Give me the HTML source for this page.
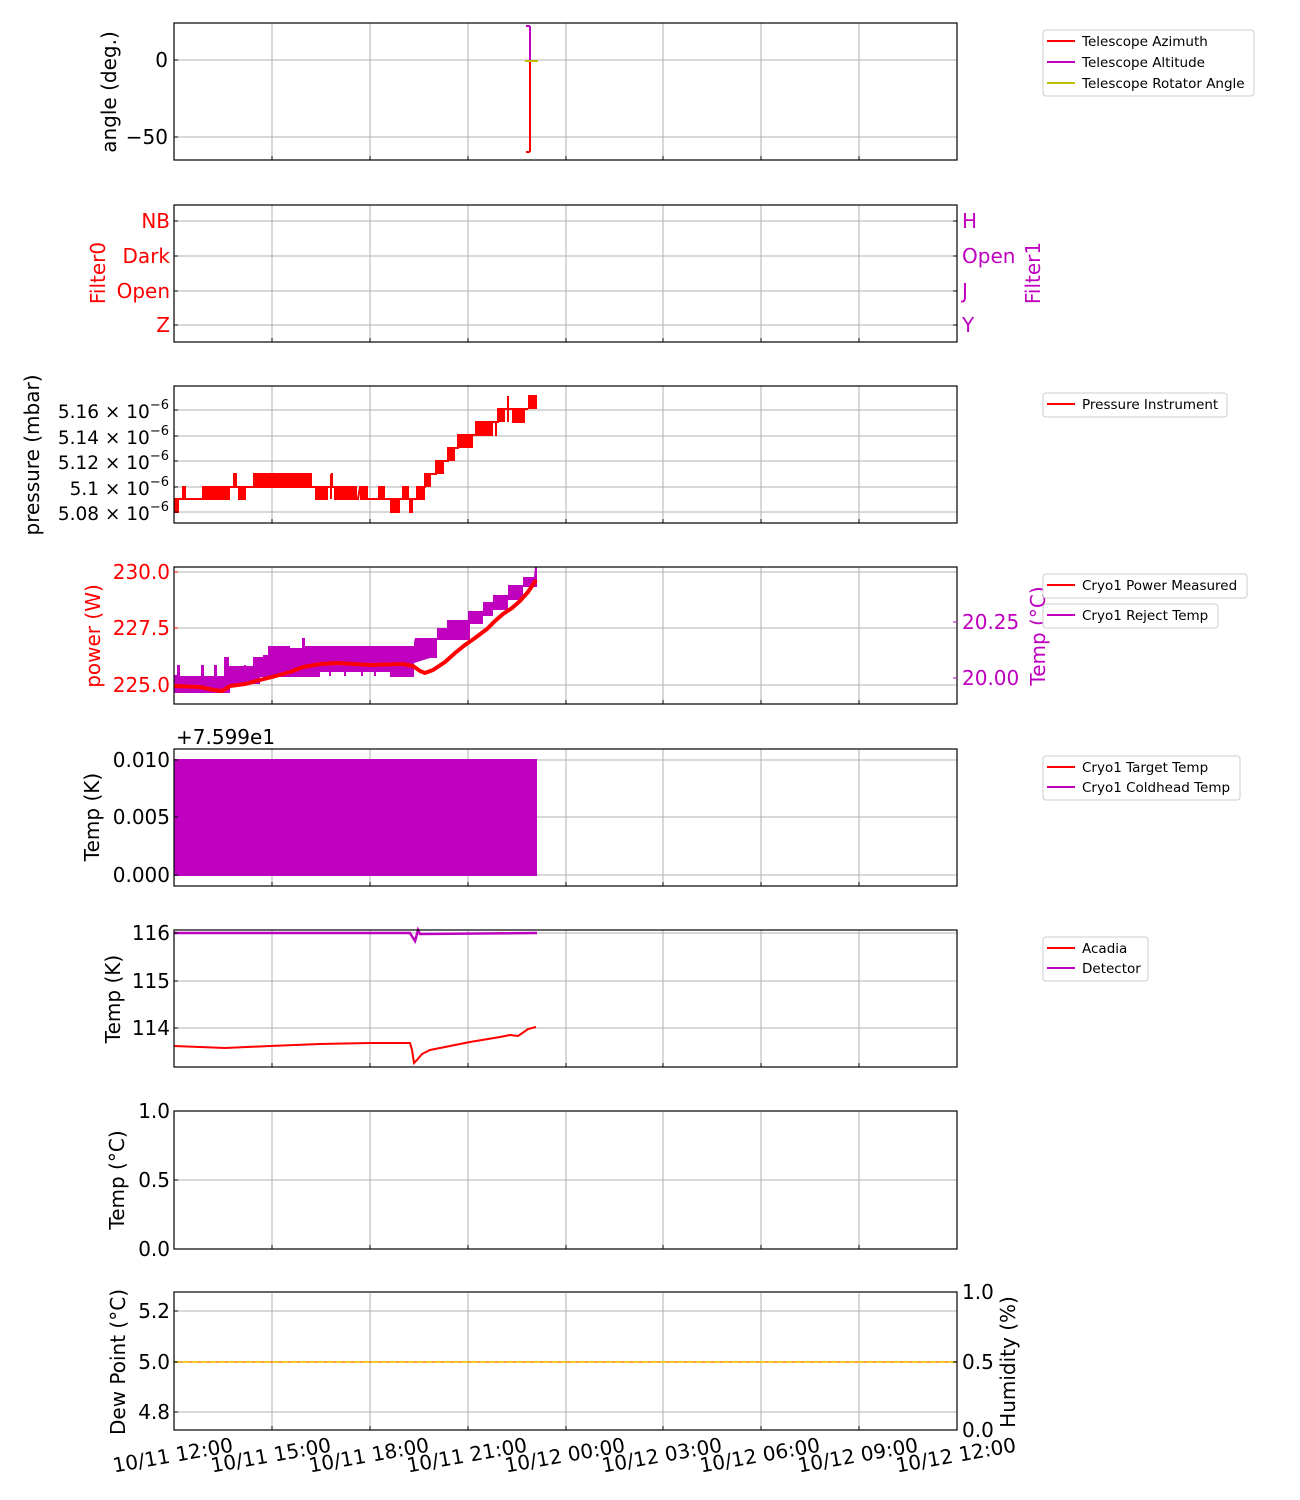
<!DOCTYPE html>
<html><head><meta charset="utf-8"><style>
html,body{margin:0;padding:0;background:#fff;}
svg{display:block;font-family:"DejaVu Sans","Liberation Sans",sans-serif;}
.g{stroke:#b0b0b0;stroke-width:1;}
.ax{fill:none;stroke:#000;stroke-width:1.2;}
.t{font-size:20px;}
.l{font-size:13.5px;}
.lb{fill:#fff;stroke:#ccc;stroke-width:1;}
</style></head><body>
<svg width="1300" height="1500" viewBox="0 0 1300 1500" xmlns="http://www.w3.org/2000/svg">
<defs>
<g id="vg">
<line class="g" x1="272" x2="272" y1="0" y2="137"/><line class="g" x1="370" x2="370" y1="0" y2="137"/>
<line class="g" x1="468" x2="468" y1="0" y2="137"/><line class="g" x1="566" x2="566" y1="0" y2="137"/>
<line class="g" x1="663" x2="663" y1="0" y2="137"/><line class="g" x1="761" x2="761" y1="0" y2="137"/>
<line class="g" x1="859" x2="859" y1="0" y2="137"/>
<g stroke="#000" stroke-width="1">
<line x1="272" x2="272" y1="137" y2="133"/><line x1="370" x2="370" y1="137" y2="133"/>
<line x1="468" x2="468" y1="137" y2="133"/><line x1="566" x2="566" y1="137" y2="133"/>
<line x1="663" x2="663" y1="137" y2="133"/><line x1="761" x2="761" y1="137" y2="133"/>
<line x1="859" x2="859" y1="137" y2="133"/>
</g>
</g>
</defs>

<!-- Panel 1 -->
<g transform="translate(0,23)"><use href="#vg"/></g>
<line class="g" x1="174" x2="957" y1="60" y2="60"/><line class="g" x1="174" x2="957" y1="137" y2="137"/>
<line x1="530" x2="530" y1="26" y2="60" stroke="#bf00bf" stroke-width="2"/>
<line x1="526" x2="530" y1="26" y2="26" stroke="#bf00bf" stroke-width="2"/>
<line x1="530" x2="530" y1="60" y2="152" stroke="#f00" stroke-width="2"/>
<line x1="526" x2="530" y1="152" y2="152" stroke="#f00" stroke-width="2"/>
<line x1="525" x2="538" y1="61" y2="61" stroke="#bfbf00" stroke-width="2"/>
<rect class="ax" x="174" y="23" width="783" height="137"/>
<g stroke="#000"><line x1="174" x2="178" y1="60" y2="60"/><line x1="174" x2="178" y1="137" y2="137"/></g>
<text class="t" x="168" y="67" text-anchor="end">0</text>
<text class="t" x="168" y="144" text-anchor="end">−50</text>
<text class="t" transform="translate(116,92) rotate(-90)" text-anchor="middle">angle (deg.)</text>
<rect class="lb" x="1043" y="30" width="211" height="66" rx="3"/>
<line x1="1047" x2="1075" y1="41" y2="41" stroke="#f00" stroke-width="2"/><text class="l" x="1082" y="46">Telescope Azimuth</text>
<line x1="1047" x2="1075" y1="62" y2="62" stroke="#bf00bf" stroke-width="2"/><text class="l" x="1082" y="67">Telescope Altitude</text>
<line x1="1047" x2="1075" y1="83" y2="83" stroke="#bfbf00" stroke-width="2"/><text class="l" x="1082" y="88">Telescope Rotator Angle</text>

<!-- Panel 2 -->
<g transform="translate(0,205)"><use href="#vg"/></g>
<g class="g"><line x1="174" x2="957" y1="221" y2="221"/><line x1="174" x2="957" y1="256" y2="256"/><line x1="174" x2="957" y1="291" y2="291"/><line x1="174" x2="957" y1="325" y2="325"/></g>
<rect class="ax" x="174" y="205" width="783" height="137"/>
<g stroke="#000"><line x1="174" x2="178" y1="221" y2="221"/><line x1="174" x2="178" y1="256" y2="256"/><line x1="174" x2="178" y1="291" y2="291"/><line x1="174" x2="178" y1="325" y2="325"/>
<line x1="953" x2="957" y1="221" y2="221"/><line x1="953" x2="957" y1="256" y2="256"/><line x1="953" x2="957" y1="291" y2="291"/><line x1="953" x2="957" y1="325" y2="325"/></g>
<g fill="#f00" class="t" text-anchor="end"><text x="170" y="228">NB</text><text x="170" y="263">Dark</text><text x="170" y="298">Open</text><text x="170" y="332">Z</text></g>
<text class="t" fill="#f00" transform="translate(105,273) rotate(-90)" text-anchor="middle">Filter0</text>
<g fill="#bf00bf" class="t"><text x="962" y="228">H</text><text x="962" y="263">Open</text><text x="962" y="298">J</text><text x="962" y="332">Y</text></g>
<text class="t" fill="#bf00bf" transform="translate(1040,273) rotate(-90)" text-anchor="middle">Filter1</text>

<!-- Panel 3 pressure -->
<g transform="translate(0,386)"><use href="#vg"/></g>
<g class="g"><line x1="174" x2="957" y1="410" y2="410"/><line x1="174" x2="957" y1="436" y2="436"/><line x1="174" x2="957" y1="461" y2="461"/><line x1="174" x2="957" y1="487" y2="487"/><line x1="174" x2="957" y1="512" y2="512"/></g>
<g fill="#f00" stroke="none">
<rect x="174" y="498" width="5" height="15"/>
<rect x="182" y="486" width="4" height="14"/>
<rect x="203" y="486" width="27" height="14"/>
<rect x="233" y="473" width="4" height="14"/>
<rect x="238" y="486" width="8" height="14"/>
<rect x="253" y="473" width="59" height="14"/>
<rect x="316" y="486" width="11" height="14"/>
<rect x="331" y="473" width="2" height="14"/>
<rect x="335" y="486" width="22" height="14"/>
<rect x="360" y="486" width="7" height="14"/>
<rect x="378" y="486" width="7" height="14"/>
<rect x="390" y="498" width="10" height="15"/>
<rect x="403" y="486" width="5" height="14"/>
<rect x="409" y="498" width="4" height="15"/>
<rect x="417" y="486" width="8" height="14"/>
<rect x="425" y="473" width="6" height="14"/>
<rect x="436" y="460" width="8" height="14"/>
<rect x="448" y="447" width="7" height="14"/>
<rect x="458" y="435" width="15" height="13"/>
<rect x="476" y="422" width="17" height="14"/>
<rect x="495" y="422" width="2" height="14"/>
<rect x="498" y="408" width="7" height="14"/>
<rect x="512" y="408" width="13" height="15"/>
<rect x="528" y="395" width="9" height="14"/>
</g>
<polyline fill="none" stroke="#f00" stroke-width="2" points="179,499 203,499 203,487 253,487 312,487 316,487 316,499 327,499 327,487 335,487 335,499 358,499 360,487 367,487 367,499 390,499 400,499 403,499 403,487 408,487 408,499 413,499 417,499 417,487 425,487 425,474 431,474 436,474 436,461 444,461 448,461 448,448 455,448 458,448 458,435 473,435 476,435 476,422 498,422 498,409 505,409 512,409 525,409 528,409"/>
<line x1="331" x2="331" y1="474" y2="499" stroke="#f00" stroke-width="2"/>
<line x1="508" x2="508" y1="396" y2="422" stroke="#f00" stroke-width="2"/>
<rect class="ax" x="174" y="386" width="783" height="137"/>
<g stroke="#000"><line x1="174" x2="178" y1="410" y2="410"/><line x1="174" x2="178" y1="436" y2="436"/><line x1="174" x2="178" y1="461" y2="461"/><line x1="174" x2="178" y1="487" y2="487"/><line x1="174" x2="178" y1="512" y2="512"/></g>
<g text-anchor="end" font-size="18.5">
<text x="169" y="418">5.16 × 10<tspan font-size="13" dy="-9">−6</tspan></text>
<text x="169" y="444">5.14 × 10<tspan font-size="13" dy="-9">−6</tspan></text>
<text x="169" y="469">5.12 × 10<tspan font-size="13" dy="-9">−6</tspan></text>
<text x="169" y="495">5.1 × 10<tspan font-size="13" dy="-9">−6</tspan></text>
<text x="169" y="520">5.08 × 10<tspan font-size="13" dy="-9">−6</tspan></text>
</g>
<text class="t" transform="translate(39,455) rotate(-90)" text-anchor="middle">pressure (mbar)</text>
<rect class="lb" x="1043" y="393" width="184" height="24" rx="3"/>
<line x1="1047" x2="1075" y1="404" y2="404" stroke="#f00" stroke-width="2"/><text class="l" x="1082" y="409">Pressure Instrument</text>

<!-- Panel 4 cryo -->
<g transform="translate(0,567)"><use href="#vg"/></g>
<g class="g"><line x1="174" x2="957" y1="572" y2="572"/><line x1="174" x2="957" y1="628" y2="628"/><line x1="174" x2="957" y1="685" y2="685"/></g>
<polygon fill="#bf00bf" points="174,675 177,675 177,665 180,665 180,676 201,676 201,665 204,665 204,676 214,676 214,665 217,665 217,676 224,676 224,657 229,657 229,666 253,666 253,657 263,657 263,655 268,655 268,646 290,646 290,648 302,648 302,638 305,638 305,646 410,646 414,646 414,642 415,638 437,638 437,628 447,628 447,620 468,620 468,611 483,611 483,602 493,602 493,595 508,595 508,585 523,585 523,577 534,577 535,567 537,567 537,587 523,587 523,600 508,600 508,610 493,610 493,616 483,616 483,624 470,624 470,640 437,640 437,658 430,658 414,663 414,677 390,677 390,672 320,672 320,677 260,677 260,684 230,684 230,693 174,693"/>
<g stroke="#bf00bf" stroke-width="2">
<line x1="245" y1="665" x2="245" y2="684"/><line x1="285" y1="660" x2="285" y2="677"/><line x1="330" y1="660" x2="330" y2="676"/><line x1="345" y1="660" x2="345" y2="676"/><line x1="362" y1="660" x2="362" y2="676"/><line x1="375" y1="660" x2="375" y2="676"/>
</g>
<polyline fill="none" stroke="#f00" stroke-width="4" points="174,686 200,687 214,690 222,691 230,686 245,684 260,680 272,677 290,672 303,667 320,664 337,663 370,665 403,664 413,666 420,671 425,673 433,670 445,662 455,653 465,645 475,638 487,629 495,621 503,614 512,608 520,601 528,592 536,580"/>
<rect class="ax" x="174" y="567" width="783" height="137"/>
<g stroke="#f00"><line x1="174" x2="178" y1="572" y2="572"/><line x1="174" x2="178" y1="628" y2="628"/><line x1="174" x2="178" y1="685" y2="685"/></g>
<g stroke="#bf00bf"><line x1="953" x2="957" y1="622" y2="622"/><line x1="953" x2="957" y1="678" y2="678"/></g>
<g class="t" fill="#f00" text-anchor="end"><text x="170" y="579">230.0</text><text x="170" y="635">227.5</text><text x="170" y="692">225.0</text></g>
<g class="t" fill="#bf00bf"><text x="962" y="629">20.25</text><text x="962" y="685">20.00</text></g>
<text class="t" fill="#f00" transform="translate(100,636) rotate(-90)" text-anchor="middle">power (W)</text>
<text class="t" fill="#bf00bf" transform="translate(1045,636) rotate(-90)" text-anchor="middle">Temp (°C)</text>
<rect class="lb" x="1043" y="574" width="204" height="24" rx="3"/>
<line x1="1047" x2="1075" y1="585" y2="585" stroke="#f00" stroke-width="2"/><text class="l" x="1082" y="590">Cryo1 Power Measured</text>
<rect class="lb" x="1043" y="604" width="175" height="24" rx="3"/>
<line x1="1047" x2="1075" y1="615" y2="615" stroke="#bf00bf" stroke-width="2"/><text class="l" x="1082" y="620">Cryo1 Reject Temp</text>

<!-- Panel 5 -->
<g transform="translate(0,749)"><use href="#vg"/></g>
<g class="g"><line x1="174" x2="957" y1="760" y2="760"/><line x1="174" x2="957" y1="817" y2="817"/><line x1="174" x2="957" y1="875" y2="875"/></g>
<rect x="174" y="759" width="363" height="117" fill="#bf00bf"/>
<rect class="ax" x="174" y="749" width="783" height="137"/>
<g stroke="#000"><line x1="174" x2="178" y1="760" y2="760"/><line x1="174" x2="178" y1="817" y2="817"/><line x1="174" x2="178" y1="875" y2="875"/></g>
<g class="t" text-anchor="end"><text x="170" y="767">0.010</text><text x="170" y="824">0.005</text><text x="170" y="882">0.000</text></g>
<text class="t" x="176" y="744">+7.599e1</text>
<text class="t" transform="translate(99,817) rotate(-90)" text-anchor="middle">Temp (K)</text>
<rect class="lb" x="1043" y="756" width="197" height="44" rx="3"/>
<line x1="1047" x2="1075" y1="767" y2="767" stroke="#f00" stroke-width="2"/><text class="l" x="1082" y="772">Cryo1 Target Temp</text>
<line x1="1047" x2="1075" y1="787" y2="787" stroke="#bf00bf" stroke-width="2"/><text class="l" x="1082" y="792">Cryo1 Coldhead Temp</text>

<!-- Panel 6 -->
<g transform="translate(0,930)"><use href="#vg"/></g>
<g class="g"><line x1="174" x2="957" y1="933" y2="933"/><line x1="174" x2="957" y1="981" y2="981"/><line x1="174" x2="957" y1="1028" y2="1028"/></g>
<polyline fill="none" stroke="#bf00bf" stroke-width="2.5" points="174,933 410,933 413,938 415,941 417,934 418,930 420,934 537,933"/>
<polyline fill="none" stroke="#f00" stroke-width="2" points="174,1046 200,1047 225,1048 270,1046 320,1044 370,1043 410,1043 412,1050 414,1063 417,1060 422,1054 430,1050 445,1047 470,1042 500,1037 510,1035 518,1036 521,1034 528,1029 536,1027"/>
<rect class="ax" x="174" y="930" width="783" height="137"/>
<g stroke="#000"><line x1="174" x2="178" y1="933" y2="933"/><line x1="174" x2="178" y1="981" y2="981"/><line x1="174" x2="178" y1="1028" y2="1028"/></g>
<g class="t" text-anchor="end"><text x="170" y="940">116</text><text x="170" y="988">115</text><text x="170" y="1035">114</text></g>
<text class="t" transform="translate(120,999) rotate(-90)" text-anchor="middle">Temp (K)</text>
<rect class="lb" x="1043" y="937" width="105" height="44" rx="3"/>
<line x1="1047" x2="1075" y1="948" y2="948" stroke="#f00" stroke-width="2"/><text class="l" x="1082" y="953">Acadia</text>
<line x1="1047" x2="1075" y1="968" y2="968" stroke="#bf00bf" stroke-width="2"/><text class="l" x="1082" y="973">Detector</text>

<!-- Panel 7 -->
<g transform="translate(0,1112)"><use href="#vg"/></g>
<g class="g"><line x1="174" x2="957" y1="1180" y2="1180"/></g>
<rect class="ax" x="174" y="1111" width="783" height="138"/>
<g stroke="#000"><line x1="174" x2="178" y1="1111" y2="1111"/><line x1="174" x2="178" y1="1180" y2="1180"/><line x1="174" x2="178" y1="1249" y2="1249"/></g>
<g class="t" text-anchor="end"><text x="170" y="1118">1.0</text><text x="170" y="1187">0.5</text><text x="170" y="1256">0.0</text></g>
<text class="t" transform="translate(124,1180) rotate(-90)" text-anchor="middle">Temp (°C)</text>

<!-- Panel 8 -->
<g transform="translate(0,1293)"><use href="#vg"/></g>
<g class="g"><line x1="174" x2="957" y1="1311" y2="1311"/><line x1="174" x2="957" y1="1412" y2="1412"/></g>
<line x1="174" x2="957" y1="1362" y2="1362" stroke="#ff7f0e" stroke-width="1.5"/>
<line x1="174" x2="957" y1="1362" y2="1362" stroke="#e8d000" stroke-width="1.5" stroke-dasharray="6,3"/>
<rect class="ax" x="174" y="1292" width="783" height="138"/>
<g stroke="#000"><line x1="174" x2="178" y1="1311" y2="1311"/><line x1="174" x2="178" y1="1362" y2="1362"/><line x1="174" x2="178" y1="1412" y2="1412"/>
<line x1="953" x2="957" y1="1292" y2="1292"/><line x1="953" x2="957" y1="1362" y2="1362"/><line x1="953" x2="957" y1="1430" y2="1430"/></g>
<g class="t" text-anchor="end"><text x="170" y="1318">5.2</text><text x="170" y="1369">5.0</text><text x="170" y="1419">4.8</text></g>
<g class="t"><text x="962" y="1299">1.0</text><text x="962" y="1369">0.5</text><text x="962" y="1437">0.0</text></g>
<text class="t" transform="translate(125,1362) rotate(-90)" text-anchor="middle">Dew Point (°C)</text>
<text class="t" transform="translate(1015,1362) rotate(-90)" text-anchor="middle">Humidity (%)</text>

<!-- X labels -->
<g class="t" text-anchor="middle">
<text transform="translate(174,1462) rotate(-10)">10/11 12:00</text>
<text transform="translate(272,1462) rotate(-10)">10/11 15:00</text>
<text transform="translate(370,1462) rotate(-10)">10/11 18:00</text>
<text transform="translate(468,1462) rotate(-10)">10/11 21:00</text>
<text transform="translate(566,1462) rotate(-10)">10/12 00:00</text>
<text transform="translate(663,1462) rotate(-10)">10/12 03:00</text>
<text transform="translate(761,1462) rotate(-10)">10/12 06:00</text>
<text transform="translate(859,1462) rotate(-10)">10/12 09:00</text>
<text transform="translate(957,1462) rotate(-10)">10/12 12:00</text>
</g>
</svg>
</body></html>
